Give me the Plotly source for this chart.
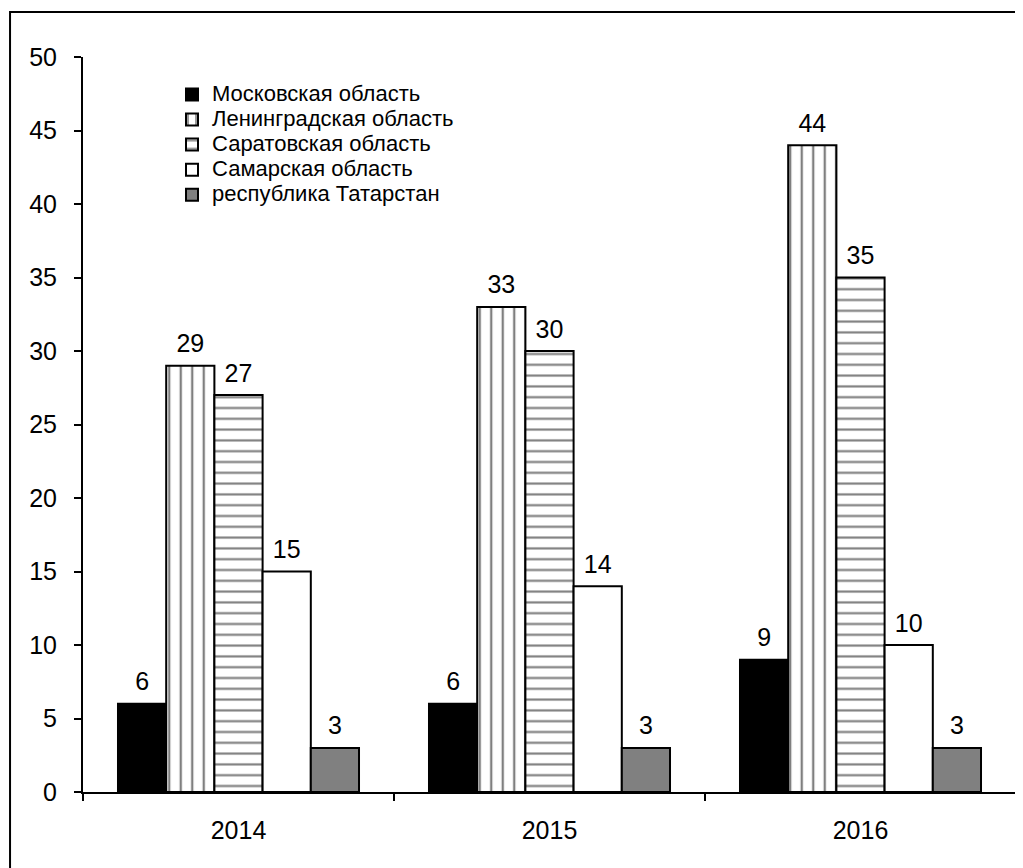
import plotly.graph_objects as go

years = ["2014", "2015", "2016"]
regions = ["Московская область", "Ленинградская область", "Саратовская область",
           "Самарская область", "республика Татарстан"]
values = {
    "Московская область": [6, 6, 9],
    "Ленинградская область": [29, 33, 44],
    "Саратовская область": [27, 30, 35],
    "Самарская область": [15, 14, 10],
    "республика Татарстан": [3, 3, 3],
}
y_ticks = [0, 5, 10, 15, 20, 25, 30, 35, 40, 45, 50]

styles = {
    "Московская область": dict(color="#000000", pattern=dict(shape="")),
    "Ленинградская область": dict(color="#ffffff", pattern=dict(shape="|", fgcolor="#000000", bgcolor="#ffffff", size=11.5, solidity=0.2, fillmode="overlay")),
    "Саратовская область": dict(color="#ffffff", pattern=dict(shape="-", fgcolor="#000000", bgcolor="#ffffff", size=10.8, solidity=0.2, fillmode="overlay")),
    "Самарская область": dict(color="#ffffff", pattern=dict(shape="")),
    "республика Татарстан": dict(color="#808080", pattern=dict(shape="")),
}

FONT = "Liberation Sans, Arial, sans-serif"
fig = go.Figure()
for r in regions:
    st = styles[r]
    fig.add_trace(go.Bar(
        x=years, y=values[r],
        name='<span style="font-size:22px">' + r + '</span>',
        hovertemplate=r + ": %{y}<extra></extra>",
        marker=dict(color=st["color"], pattern=st["pattern"],
                    line=dict(color="#000000", width=2)),
        offsetgroup=r, alignmentgroup="a",
    ))
for r in regions:
    fig.add_trace(go.Scatter(
        x=years, y=values[r], mode="markers+text",
        text=[str(v) for v in values[r]], textposition="top center",
        textfont=dict(size=25, color="#000000", family=FONT),
        marker=dict(size=10, color="rgba(0,0,0,0)"),
        offsetgroup=r, alignmentgroup="a",
        showlegend=False, hoverinfo="skip", cliponaxis=False,
    ))

fig.update_layout(
    width=1015, height=860,
    margin=dict(l=75, r=7, t=49, b=76),
    paper_bgcolor="#ffffff", plot_bgcolor="#ffffff",
    barmode="group", bargap=0.225, bargroupgap=0,
    scattermode="group", scattergap=0.225,
    font=dict(family=FONT, size=25, color="#000000"),
    showlegend=True,
    legend=dict(x=0.0954, y=0.973, xanchor="left", yanchor="top",
                bgcolor="rgba(0,0,0,0)", font=dict(size=17, family=FONT, color="#000000"),
                itemclick=False, itemdoubleclick=False),
    xaxis=dict(type="category", range=[-0.5, 2.5], showline=True, linecolor="#000000", linewidth=2,
               ticks="outside", tickson="boundaries", ticklen=7, tickwidth=2, tickcolor="#000000",
               ticklabelstandoff=15, showgrid=False, zeroline=False,
               tickfont=dict(size=25, family=FONT)),
    yaxis=dict(range=[0, 50], tickvals=y_ticks, showline=True, linecolor="#000000", linewidth=2,
               ticks="outside", ticklen=7, tickwidth=2, tickcolor="#000000",
               ticklabelstandoff=12, showgrid=False, zeroline=False,
               tickfont=dict(size=25, family=FONT)),
    shapes=[dict(type="rect", xref="paper", yref="paper",
                 x0=-0.0782, x1=1.02, y0=-0.13, y1=1.0612,
                 line=dict(color="#000000", width=2), fillcolor="rgba(0,0,0,0)", layer="below")],
)

fig.write_html("out.html")
